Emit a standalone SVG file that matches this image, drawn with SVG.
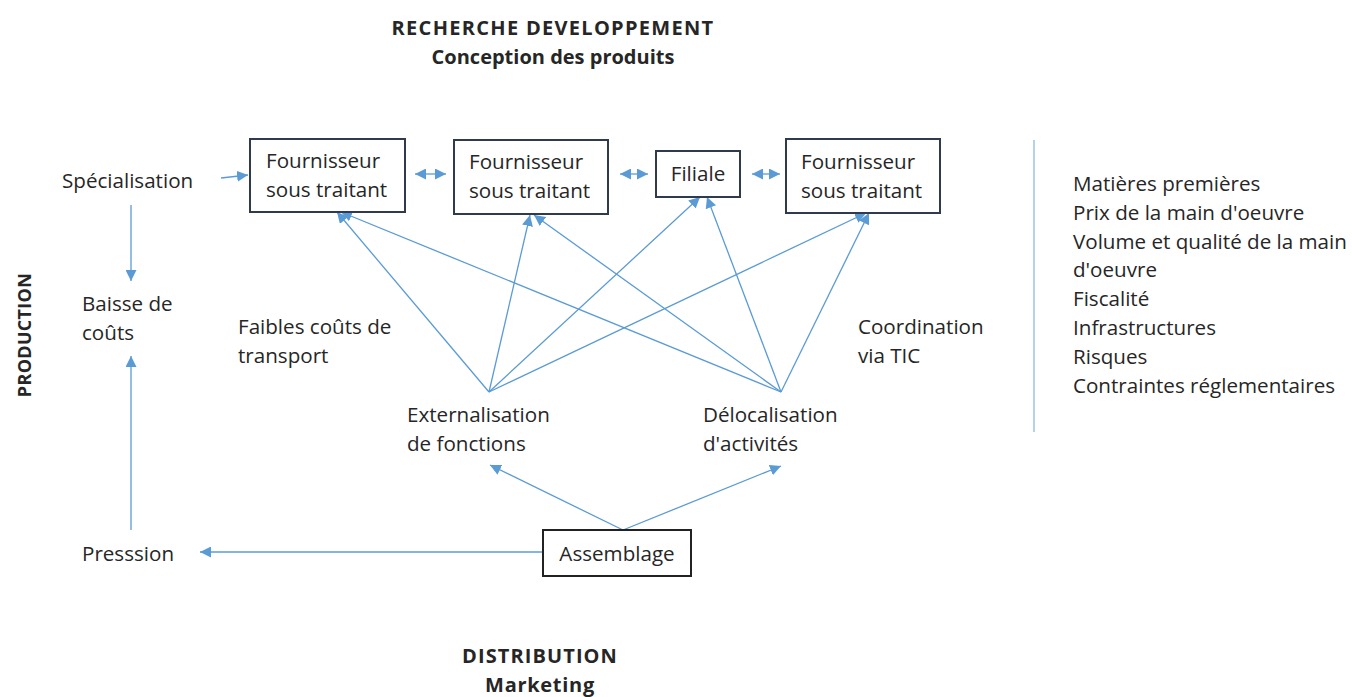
<svg xmlns="http://www.w3.org/2000/svg" width="1352" height="697" viewBox="0 0 1352 697">
<style>
text{font-family:"Open Sans","Liberation Sans",sans-serif;font-size:20.6px;fill:#262626}
.b{font-weight:bold;font-size:20px}
.box{fill:#fff;stroke:#2f3b4c;stroke-width:2}
.c{stroke:#5b9bd5;stroke-width:1.3;fill:none}
</style>
<defs>
<marker id="ah" viewBox="0 0 10 10" refX="10" refY="5" markerWidth="11" markerHeight="11" markerUnits="userSpaceOnUse" orient="auto-start-reverse">
<path d="M0,0 L10,5 L0,10 z" fill="#5b9bd5"/>
</marker>
</defs>
<rect width="1352" height="697" fill="#fff"/>
<g id="connectors">
<line class="c" x1="221" y1="178" x2="248" y2="175" marker-end="url(#ah)"/>
<line class="c" x1="415" y1="174" x2="446" y2="174" marker-start="url(#ah)" marker-end="url(#ah)"/>
<line class="c" x1="620" y1="174" x2="648" y2="174" marker-start="url(#ah)" marker-end="url(#ah)"/>
<line class="c" x1="752" y1="174" x2="780" y2="174" marker-start="url(#ah)" marker-end="url(#ah)"/>
<line class="c" x1="131" y1="205" x2="131" y2="281" marker-end="url(#ah)"/>
<line class="c" x1="131" y1="530" x2="131" y2="356" marker-end="url(#ah)"/>
<line class="c" x1="543" y1="552" x2="200" y2="552" marker-end="url(#ah)"/>
<line class="c" x1="489" y1="392" x2="337" y2="212" marker-end="url(#ah)"/>
<line class="c" x1="489" y1="392" x2="530" y2="215" marker-end="url(#ah)"/>
<line class="c" x1="489" y1="392" x2="700" y2="197" marker-end="url(#ah)"/>
<line class="c" x1="489" y1="392" x2="866" y2="213" marker-end="url(#ah)"/>
<line class="c" x1="781" y1="392" x2="341" y2="212" marker-end="url(#ah)"/>
<line class="c" x1="781" y1="392" x2="534" y2="215" marker-end="url(#ah)"/>
<line class="c" x1="781" y1="392" x2="707" y2="197" marker-end="url(#ah)"/>
<line class="c" x1="781" y1="392" x2="869" y2="213" marker-end="url(#ah)"/>
<line class="c" x1="623" y1="530" x2="490" y2="465" marker-end="url(#ah)"/>
<line class="c" x1="623" y1="530" x2="781" y2="466" marker-end="url(#ah)"/>
<line x1="1034" y1="140" x2="1034" y2="432" stroke="#9dc3e6" stroke-width="1.5"/>
</g>
<g id="titles">
<text class="b" x="553" y="35" text-anchor="middle" letter-spacing="1.3">RECHERCHE DEVELOPPEMENT</text>
<text class="b" x="553" y="64" text-anchor="middle">Conception des produits</text>
<text class="b" x="540" y="663" text-anchor="middle" letter-spacing="1.1">DISTRIBUTION</text>
<text class="b" x="540" y="692" text-anchor="middle" letter-spacing="0.7">Marketing</text>
<text class="b" transform="translate(31,335) rotate(-90)" text-anchor="middle" style="font-size:18px" letter-spacing="0.3">PRODUCTION</text>
</g>
<g id="n-fournisseur1">
<rect class="box" x="250" y="139" width="155" height="73"/>
<text x="266" y="168">Fournisseur</text>
<text x="266" y="197">sous traitant</text>
</g>
<g id="n-fournisseur2">
<rect class="box" x="454" y="140" width="154" height="74"/>
<text x="469" y="169">Fournisseur</text>
<text x="469" y="198">sous traitant</text>
</g>
<g id="n-filiale">
<rect class="box" x="656" y="151" width="84" height="46"/>
<text x="698" y="181" text-anchor="middle">Filiale</text>
</g>
<g id="n-fournisseur4">
<rect class="box" x="786" y="139" width="154" height="74"/>
<text x="801" y="169">Fournisseur</text>
<text x="801" y="198">sous traitant</text>
</g>
<g id="n-assemblage">
<rect class="box" x="543" y="530" width="148" height="46" style="stroke:#222"/>
<text x="617" y="561" text-anchor="middle">Assemblage</text>
</g>
<g id="n-specialisation"><text x="62" y="188">Spécialisation</text></g>
<g id="n-baisse"><text x="82" y="311">Baisse de</text><text x="82" y="340">coûts</text></g>
<g id="n-pression"><text x="82" y="561">Presssion</text></g>
<g id="n-transport"><text x="238" y="334">Faibles coûts de</text><text x="238" y="363">transport</text></g>
<g id="n-coordination"><text x="858" y="334">Coordination</text><text x="858" y="363">via TIC</text></g>
<g id="n-externalisation"><text x="407" y="422">Externalisation</text><text x="407" y="451">de fonctions</text></g>
<g id="n-delocalisation"><text x="703" y="422">Délocalisation</text><text x="703" y="451">d'activités</text></g>
<g id="n-facteurs">
<text x="1073" y="191">Matières premières</text>
<text x="1073" y="220">Prix de la main d'oeuvre</text>
<text x="1073" y="249">Volume et qualité de la main</text>
<text x="1073" y="277">d'oeuvre</text>
<text x="1073" y="306">Fiscalité</text>
<text x="1073" y="335">Infrastructures</text>
<text x="1073" y="364">Risques</text>
<text x="1073" y="393">Contraintes réglementaires</text>
</g>
</svg>
